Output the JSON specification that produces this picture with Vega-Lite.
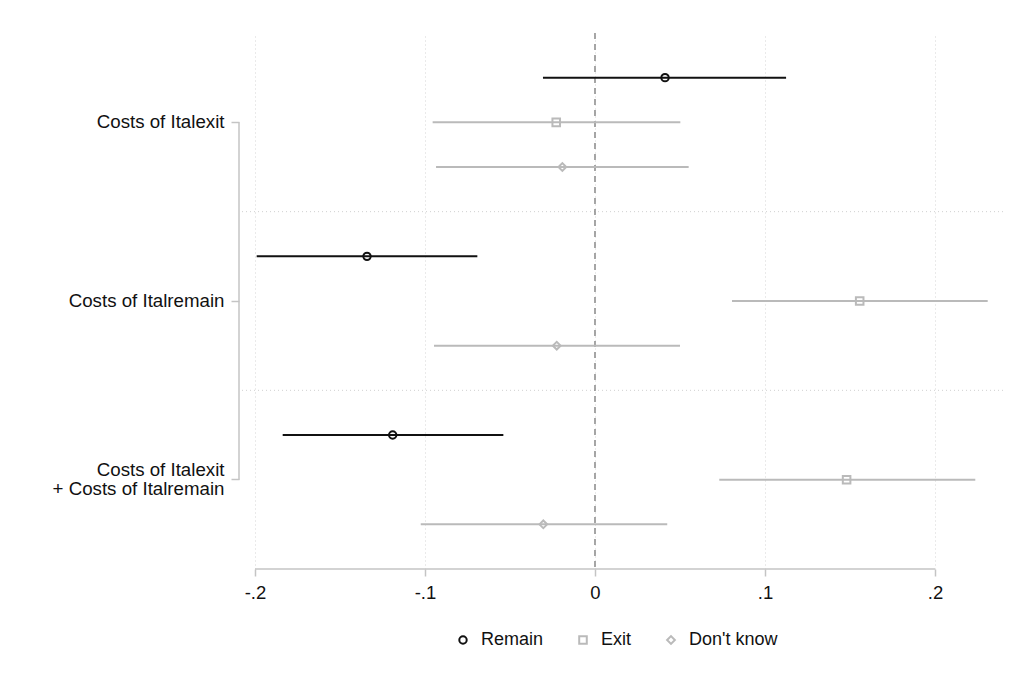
{
  "$schema": "https://vega.github.io/schema/vega-lite/v6.json",
  "width": 764,
  "height": 536,
  "autosize": {"type": "none"},
  "padding": {"left": 239, "top": 33, "right": 10, "bottom": 115},
  "background": "white",
  "config": {
    "view": {"stroke": null},
    "font": "Liberation Sans",
    "axis": {"labelFont": "Liberation Sans"},
    "legend": {"labelFont": "Liberation Sans"}
  },
  "datasets": {
    "coefs": [
      {"group": "Costs of Italexit", "outcome": "Remain", "b": 0.0412, "lo": -0.0306, "hi": 0.1124},
      {"group": "Costs of Italexit", "outcome": "Exit", "b": -0.0228, "lo": -0.0955, "hi": 0.0502},
      {"group": "Costs of Italexit", "outcome": "Don't know", "b": -0.0192, "lo": -0.0935, "hi": 0.0551},
      {"group": "Costs of Italremain", "outcome": "Remain", "b": -0.1341, "lo": -0.199, "hi": -0.0692},
      {"group": "Costs of Italremain", "outcome": "Exit", "b": 0.1557, "lo": 0.0806, "hi": 0.231},
      {"group": "Costs of Italremain", "outcome": "Don't know", "b": -0.0225, "lo": -0.0947, "hi": 0.05},
      {"group": "Costs of Italexit + Costs of Italremain", "outcome": "Remain", "b": -0.119, "lo": -0.1837, "hi": -0.0539},
      {"group": "Costs of Italexit + Costs of Italremain", "outcome": "Exit", "b": 0.148, "lo": 0.0731, "hi": 0.2237},
      {"group": "Costs of Italexit + Costs of Italremain", "outcome": "Don't know", "b": -0.0304, "lo": -0.1025, "hi": 0.0425}
    ],
    "groups": [
      {"group": "Costs of Italexit"},
      {"group": "Costs of Italremain"},
      {"group": "Costs of Italexit + Costs of Italremain"}
    ]
  },
  "layer": [
    {
      "data": {"name": "groups"},
      "transform": [{"filter": "datum.group != 'Costs of Italexit'"}],
      "mark": {"type": "rule", "color": "#d0d0d0", "strokeWidth": 1, "strokeDash": [1, 3]},
      "encoding": {
        "y": {"field": "group", "type": "nominal", "bandPosition": 0}
      }
    },
    {
      "data": {"values": [{}]},
      "mark": {"type": "rule", "color": "#c4c4c4", "strokeWidth": 1.5},
      "encoding": {
        "x": {"datum": -0.2094},
        "y": {"datum": "Costs of Italexit"},
        "y2": {"datum": "Costs of Italexit + Costs of Italremain"}
      }
    },
    {
      "data": {"values": [{}]},
      "mark": {"type": "rule", "color": "#c4c4c4", "strokeWidth": 1.5},
      "encoding": {
        "x": {"datum": -0.2},
        "x2": {"datum": 0.2},
        "y": {"datum": "Costs of Italexit + Costs of Italremain", "bandPosition": 1}
      }
    },
    {
      "data": {"values": [{}]},
      "mark": {"type": "rule", "color": "#8a8a8a", "strokeWidth": 1.5, "strokeDash": [6, 5]},
      "encoding": {
        "x": {"datum": 0}
      }
    },
    {
      "data": {"name": "coefs"},
      "mark": {"type": "rule", "strokeWidth": 2},
      "encoding": {
        "x": {
          "field": "lo", "type": "quantitative",
          "scale": {"domain": [-0.2094, 0.24], "nice": false, "zero": false},
          "axis": {
            "title": null,
            "values": [-0.2, -0.1, 0, 0.1, 0.2],
            "labelExpr": "datum.value == 0 ? '0' : (datum.value < 0 ? '-.' : '.') + round(abs(datum.value) * 10)",
            "domain": false,
            "ticks": true,
            "tickSize": 7,
            "tickColor": "#c4c4c4",
            "tickWidth": 1.5,
            "labelFontSize": 18.5,
            "labelColor": "#111",
            "labelPadding": 7,
            "grid": true,
            "gridColor": "#d4d4d4",
            "gridDash": [1, 3],
            "gridWidth": 1
          }
        },
        "x2": {"field": "hi"},
        "y": {
          "field": "group", "type": "nominal",
          "scale": {
            "domain": ["Costs of Italexit", "Costs of Italremain", "Costs of Italexit + Costs of Italremain"],
            "paddingInner": 0, "paddingOuter": 0
          },
          "axis": {
            "title": null,
            "domain": false,
            "ticks": true,
            "tickSize": 8,
            "tickColor": "#c4c4c4",
            "tickWidth": 1.5,
            "labelFontSize": 18.7,
            "labelColor": "#111",
            "labelPadding": 7,
            "labelLimit": 0,
            "labelLineHeight": 19,
            "labelOffset": {"condition": {"test": "indexof(datum.value, ' + ') > 0", "value": -9.5}, "value": 0},
            "grid": false,
            "labelExpr": "indexof(datum.label, ' + ') > 0 ? [slice(datum.label, 0, indexof(datum.label, ' + ')), slice(datum.label, indexof(datum.label, ' + ') + 1)] : datum.label"
          }
        },
        "yOffset": {
          "field": "outcome", "type": "nominal",
          "scale": {"type": "point", "domain": ["Remain", "Exit", "Don't know"], "padding": 1}
        },
        "color": {
          "field": "outcome", "type": "nominal",
          "scale": {"domain": ["Remain", "Exit", "Don't know"], "range": ["#111111", "#bababa", "#bababa"]}
        }
      }
    },
    {
      "data": {"name": "coefs"},
      "mark": {"type": "point", "filled": false, "strokeWidth": 2, "opacity": 1},
      "encoding": {
        "x": {"field": "b", "type": "quantitative"},
        "y": {"field": "group", "type": "nominal"},
        "yOffset": {"field": "outcome", "type": "nominal"},
        "color": {
          "field": "outcome", "type": "nominal",
          "legend": {
            "title": null,
            "orient": "none",
            "direction": "horizontal",
            "legendX": 215,
            "legendY": 598,
            "labelFontSize": 18,
            "labelColor": "#111",
            "symbolStrokeWidth": 2,
            "labelOffset": 9,
            "columnPadding": 30
          }
        },
        "shape": {
          "field": "outcome", "type": "nominal",
          "scale": {"domain": ["Remain", "Exit", "Don't know"], "range": ["circle", "square", "diamond"]}
        },
        "size": {
          "field": "outcome", "type": "nominal",
          "scale": {"domain": ["Remain", "Exit", "Don't know"], "range": [55, 60, 130]}
        }
      }
    }
  ]
}
